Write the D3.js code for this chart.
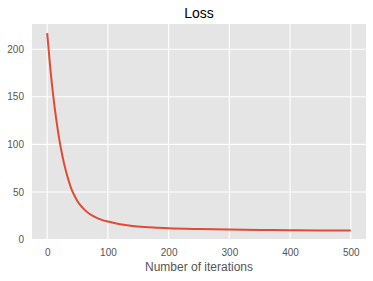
<!DOCTYPE html>
<html>
<head>
<meta charset="utf-8">
<script src="https://cdn.jsdelivr.net/npm/d3@7"></script>
<style>
  body { margin: 0; background: #fff; }
  text { font-family: "Liberation Sans", Arial, sans-serif; }
</style>
</head>
<body>
<svg id="chart" width="373" height="281"></svg>
<script>
const iterations = [0, 5, 10, 15, 20, 25, 30, 35, 40, 45, 50, 55, 60, 70, 80, 90, 100, 120, 140, 160, 180, 200, 250, 300, 350, 400, 450, 500];
const lossValues = [217, 181, 151, 126, 105, 88, 74, 62.5, 53, 46, 40.3, 35.8, 32.2, 26.8, 23.2, 20.7, 18.9, 16, 14.2, 13.1, 12.4, 11.8, 11, 10.5, 10.1, 9.8, 9.6, 9.4];
const xTicks = [0, 100, 200, 300, 400, 500];
const yTicks = [0, 50, 100, 150, 200];
const titleText = "Loss";
const xLabelText = "Number of iterations";

const svg = d3.select("#chart");
const pLeft = 32, pRight = 366, pTop = 24, pBottom = 240;

const x = d3.scaleLinear().domain([-25, 525]).range([pLeft, pRight]);
const y = d3.scaleLinear().domain([-0.5, 226.5]).range([pBottom, pTop]);

svg.append("rect")
  .attr("x", pLeft).attr("y", pTop)
  .attr("width", pRight - pLeft).attr("height", pBottom - pTop)
  .attr("fill", "#E5E5E5");

// grid
const grid = svg.append("g");
grid.selectAll(".gx").data(xTicks).enter().append("line")
  .attr("x1", d => x(d)).attr("x2", d => x(d))
  .attr("y1", pTop).attr("y2", pBottom)
  .attr("stroke", "#fff").attr("stroke-width", 1.1);
grid.selectAll(".gy").data(yTicks).enter().append("line")
  .attr("x1", pLeft).attr("x2", pRight)
  .attr("y1", d => y(d)).attr("y2", d => y(d))
  .attr("stroke", "#fff").attr("stroke-width", 1.1);

// axes (labels only)
const xAxis = svg.append("g").attr("transform", `translate(0,${pBottom})`)
  .call(d3.axisBottom(x).tickValues(xTicks).tickSize(0).tickPadding(9));
const yAxis = svg.append("g").attr("transform", `translate(${pLeft},0)`)
  .call(d3.axisLeft(y).tickValues(yTicks).tickSize(0).tickPadding(8));
[xAxis, yAxis].forEach(a => {
  a.select(".domain").remove();
  a.selectAll("text").attr("fill", "#555555").attr("font-size", "10px")
    .attr("font-family", "'Liberation Sans', Arial, sans-serif");
});

// line
const data = iterations.map((d, i) => [d, lossValues[i]]);
svg.append("path")
  .datum(data)
  .attr("fill", "none")
  .attr("stroke", "#E24A33")
  .attr("stroke-width", 2)
  .attr("d", d3.line().x(d => x(d[0])).y(d => y(d[1])).curve(d3.curveMonotoneX));

svg.append("text")
  .attr("x", (pLeft + pRight) / 2).attr("y", 18)
  .attr("text-anchor", "middle")
  .attr("font-size", "14px").attr("fill", "#000")
  .text(titleText);

svg.append("text")
  .attr("x", (pLeft + pRight) / 2).attr("y", 271)
  .attr("text-anchor", "middle")
  .attr("font-size", "12px").attr("fill", "#555555")
  .text(xLabelText);
</script>
</body>
</html>
